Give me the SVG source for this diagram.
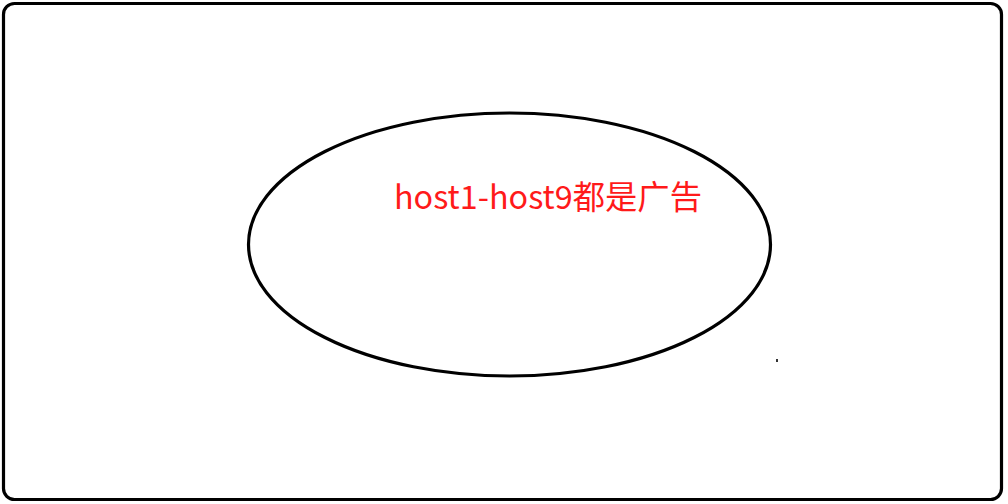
<svg xmlns="http://www.w3.org/2000/svg" width="1008" height="504" viewBox="0 0 1008 504">
<style>
.line{fill:none;stroke:#000;stroke-width:3.2}
.lbl{font-family:"Microsoft YaHei","Noto Sans CJK SC","Noto Sans",sans-serif;font-size:32.5px;fill:#ff1a1a}
</style>
<rect x="0" y="0" width="1008" height="504" fill="#fff"/>
<g id="frame"><rect class="line" x="3.5" y="3.5" width="998" height="496" rx="11" ry="11"/></g>
<g id="ellipse-node">
<ellipse class="line" cx="509.5" cy="244.5" rx="261" ry="131.5"/>
<text class="lbl" x="394" y="209" textLength="308" lengthAdjust="spacingAndGlyphs">host1-host9都是广告</text>
</g>
<g id="connectors"></g>
<rect x="776" y="359" width="2" height="3" fill="#333"/>
</svg>
